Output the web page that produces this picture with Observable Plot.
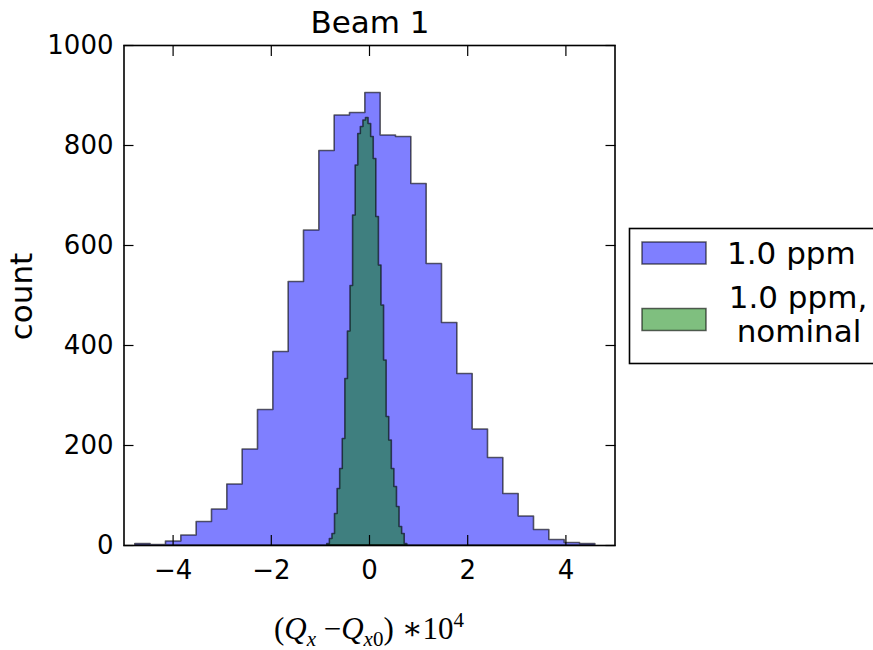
<!DOCTYPE html>
<html><head><meta charset="utf-8">
<script src="https://cdn.jsdelivr.net/npm/d3@7"></script>
<script src="https://cdn.jsdelivr.net/npm/@observablehq/plot@0.6"></script>
<style>body{margin:0;background:#fff}</style>
</head><body><div id="chart"></div>
<script>
const title = "Beam 1";
const yLabel = "count";
const xTicks = [-4, -2, 0, 2, 4];
const yTicks = [0, 200, 400, 600, 800, 1000];
const xDomain = [-5, 5];
const yDomain = [0, 1000];
const seriesNames = ["1.0 ppm", "1.0 ppm,", "nominal"];

// Blue histogram ("1.0 ppm"): 30 bins between these edges
const blueRange = [-4.77, 4.60];
const blueCounts = [3, 1, 8, 20, 47, 72, 122, 192, 271, 387, 527, 630, 789, 860, 865,
                    905, 820, 817, 723, 563, 445, 343, 232, 175, 103, 58, 31, 11, 5, 3];

// Green histogram ("1.0 ppm, nominal"): 31 bins between these edges
const greenRange = [-0.86, 0.77];
const greenCounts = [3, 13, 23, 63, 113, 153, 213, 333, 428, 519, 660, 760, 823, 837, 850,
                     855, 843, 817, 773, 657, 560, 480, 370, 257, 210, 153, 117, 77, 37, 23, 3];

function toSteps(range, counts) {
  const w = (range[1] - range[0]) / counts.length;
  const pts = counts.map((c, i) => ({x: range[0] + i * w, y: c}));
  pts.push({x: range[1], y: counts[counts.length - 1]});
  return pts;
}
const blueData = toSteps(blueRange, blueCounts);
const greenData = toSteps(greenRange, greenCounts);

const fmt = d => (d < 0 ? "\u2212" + Math.abs(d) : String(d));

const chart = Plot.plot({
  width: 873, height: 650,
  marginLeft: 123.5, marginRight: 258.5, marginTop: 45, marginBottom: 105,
  x: {domain: xDomain, label: null},
  y: {domain: yDomain, label: null},
  style: {fontFamily: "DejaVu Sans", fontSize: "26px", color: "#000", background: "#fff", overflow: "visible"},
  marks: [
    Plot.areaY(blueData, {x: "x", y: "y", curve: "step-after", fill: "#0000ff", fillOpacity: 0.5,
      stroke: "#000", strokeOpacity: 0.6, strokeWidth: 1.6}),
    Plot.areaY(greenData, {x: "x", y: "y", curve: "step-after", fill: "#008000", fillOpacity: 0.5,
      stroke: "#000", strokeOpacity: 0.6, strokeWidth: 1.6}),
    Plot.axisX(xTicks, {anchor: "bottom", tickSize: -10, tickPadding: 25, tickFormat: fmt, label: null, strokeWidth: 1.2}),
    Plot.axisX(xTicks, {anchor: "top", tickSize: -10, tickFormat: () => "", label: null, strokeWidth: 1.2}),
    Plot.axisY(yTicks, {anchor: "left", tickSize: -10, tickPadding: 20.5, tickFormat: fmt, label: null, strokeWidth: 1.2}),
    Plot.axisY(yTicks, {anchor: "right", tickSize: -10, tickFormat: () => "", label: null, strokeWidth: 1.2}),
    Plot.frame({stroke: "#000", strokeWidth: 1.6})
  ]
});
document.getElementById("chart").appendChild(chart);

const svg = d3.select(chart);
// Title
svg.append("text").attr("x", 370).attr("y", 33).attr("text-anchor", "middle")
  .style("font-family", "DejaVu Sans").style("font-size", "31px").attr("fill", "#000").text(title);
// Y label
svg.append("text").attr("transform", "translate(31.5,296.5) rotate(-90)").attr("text-anchor", "middle")
  .style("font-family", "DejaVu Sans").style("font-size", "31px").attr("fill", "#000").text(yLabel);
// X label (math)
const xl = svg.append("text").attr("x", 369).attr("y", 639).attr("text-anchor", "middle")
  .style("font-family", "'Liberation Serif', 'DejaVu Serif', serif").style("font-size", "31px").attr("fill", "#000");
xl.append("tspan").text("(");
xl.append("tspan").style("font-style", "italic").text("Q");
xl.append("tspan").attr("dy", 7).style("font-size", "21px").style("font-style", "italic").text("x");
xl.append("tspan").attr("dy", -7).text(" \u2212");
xl.append("tspan").style("font-style", "italic").text("Q");
xl.append("tspan").attr("dy", 7).style("font-size", "21px").style("font-style", "italic").text("x");
xl.append("tspan").style("font-size", "21px").text("0");
xl.append("tspan").attr("dy", -7).text(") \u221710");
xl.append("tspan").attr("dy", -12).style("font-size", "21px").text("4");

// Legend
const lg = svg.append("g");
lg.append("rect").attr("x", 629.5).attr("y", 228.5).attr("width", 260).attr("height", 135)
  .attr("fill", "#fff").attr("stroke", "#000").attr("stroke-width", 1.6);
lg.append("rect").attr("x", 642).attr("y", 242).attr("width", 64).attr("height", 22)
  .attr("fill", "#0000ff").attr("fill-opacity", 0.5).attr("stroke", "#000").attr("stroke-opacity", 0.6).attr("stroke-width", 1.5);
lg.append("rect").attr("x", 642).attr("y", 308.5).attr("width", 64).attr("height", 22)
  .attr("fill", "#008000").attr("fill-opacity", 0.5).attr("stroke", "#000").attr("stroke-opacity", 0.6).attr("stroke-width", 1.5);
lg.append("text").attr("x", 727).attr("y", 264).attr("text-anchor", "start").style("font-family", "DejaVu Sans").style("font-size", "31px")
  .attr("fill", "#000").text(seriesNames[0]);
lg.append("text").attr("x", 798).attr("y", 308).attr("text-anchor", "middle").style("font-family", "DejaVu Sans").style("font-size", "31px")
  .attr("fill", "#000").text(seriesNames[1]);
lg.append("text").attr("x", 799).attr("y", 342).attr("text-anchor", "middle").style("font-family", "DejaVu Sans").style("font-size", "31px")
  .attr("fill", "#000").text(seriesNames[2]);
</script>
</body></html>
